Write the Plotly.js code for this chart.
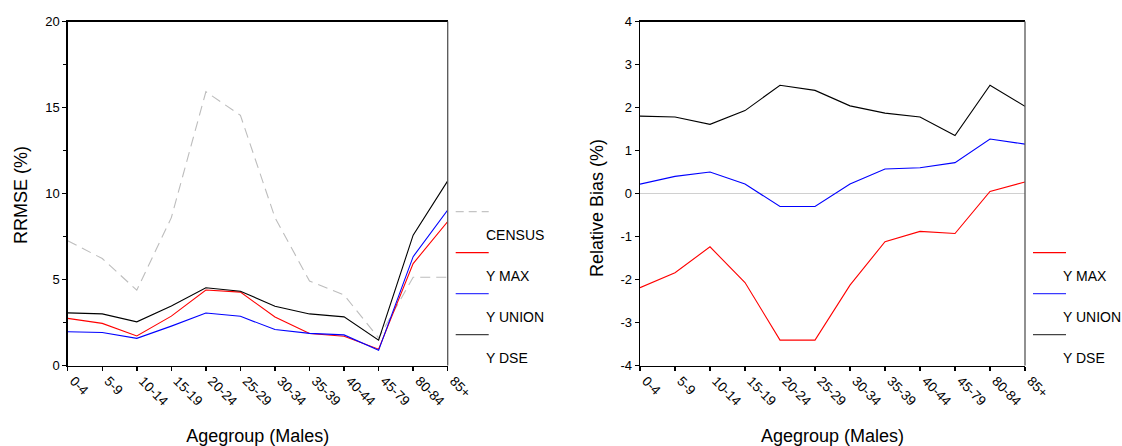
<!DOCTYPE html>
<html>
<head>
<meta charset="utf-8">
<script src="https://cdn.plot.ly/plotly-3.0.1.min.js"></script>
<style>html,body{margin:0;padding:0;background:#fff;}#chart{width:1122px;height:446px;}</style>
</head>
<body>
<div id="chart"></div>
<script>
// ---- data ----
const ageGroups = ['0-4','5-9','10-14','15-19','20-24','25-29','30-34','35-39','40-44','45-79','80-84','85+'];

const rrmseCensus = [7.26, 6.22, 4.38, 8.6, 15.92, 14.55, 8.6, 4.91, 4.1, 1.6, 5.13, 5.13];
const rrmseYMax   = [2.74, 2.45, 1.72, 2.87, 4.39, 4.27, 2.82, 1.86, 1.7, 0.95, 5.93, 8.37];
const rrmseYUnion = [1.96, 1.92, 1.58, 2.29, 3.05, 2.86, 2.09, 1.87, 1.78, 0.88, 6.33, 9.04];
const rrmseYDse   = [3.06, 3.0, 2.54, 3.46, 4.52, 4.32, 3.45, 3.0, 2.83, 1.47, 7.58, 10.74];

const biasYMax   = [-2.19, -1.84, -1.24, -2.07, -3.41, -3.41, -2.13, -1.12, -0.88, -0.93, 0.05, 0.27];
const biasYUnion = [0.22, 0.40, 0.50, 0.22, -0.30, -0.30, 0.22, 0.57, 0.60, 0.72, 1.27, 1.15];
const biasYDse   = [1.80, 1.78, 1.61, 1.93, 2.52, 2.40, 2.04, 1.87, 1.78, 1.35, 2.52, 2.03];

const seriesNames = ['CENSUS', 'Y MAX', 'Y UNION', 'Y DSE'];
const rrmseTickVals = [0, 5, 10, 15, 20];
const rrmseTickText = ['0', '5', '10', '15', '20'];
const biasTickVals = [-4, -3, -2, -1, 0, 1, 2, 3, 4];
const biasTickText = ['-4', '-3', '-2', '-1', '0', '1', '2', '3', '4'];

const xTitle = 'Agegroup (Males)';
const yTitleLeft = 'RRMSE (%)';
const yTitleRight = 'Relative Bias (%)';

// ---- styling ----
const W = 1122, H = 446;
const FONT = 'Arial, "Liberation Sans", sans-serif';
const colors = {'CENSUS': '#bdbdbd', 'Y MAX': '#ff0000', 'Y UNION': '#0000ff', 'Y DSE': '#000000'};
const legendColors = {'CENSUS': '#c4c4c4', 'Y MAX': '#ff0000', 'Y UNION': '#3b3bff', 'Y DSE': '#444444'};

const leftPx = [67.7, 447.7], rightPx = [640, 1025], yPx = [21.6, 365.5];
const xdom1 = [leftPx[0] / W, leftPx[1] / W];
const xdom2 = [rightPx[0] / W, rightPx[1] / W];
const ydom = [(H - yPx[1]) / H, (H - yPx[0]) / H];

function line(name, y, xa, ya) {
  return {
    type: 'scatter', mode: 'lines', name: name, x: ageGroups, y: y,
    xaxis: xa, yaxis: ya, showlegend: false,
    line: {color: colors[name], width: 1.1,
           dash: name === 'CENSUS' ? '10px,6px' : 'solid'}
  };
}

const traces = [
  line('CENSUS', rrmseCensus, 'x', 'y'),
  line('Y MAX', rrmseYMax, 'x', 'y'),
  line('Y UNION', rrmseYUnion, 'x', 'y'),
  line('Y DSE', rrmseYDse, 'x', 'y'),
  line('Y MAX', biasYMax, 'x2', 'y2'),
  line('Y UNION', biasYUnion, 'x2', 'y2'),
  line('Y DSE', biasYDse, 'x2', 'y2')
];

const tickFont = {family: FONT, size: 13, color: '#000'};
function xaxis(dom, anchor) {
  return {
    domain: dom, anchor: anchor, type: 'category', range: [0, ageGroups.length - 1],
    showgrid: false, zeroline: false, showline: true, linecolor: '#000', linewidth: 1.4,
    mirror: true, ticks: 'outside', ticklen: 4, tickwidth: 1.5, tickcolor: '#000',
    tickangle: 45, tickfont: {family: FONT, size: 13.5, color: '#000'}, automargin: false,
    ticklabelshift: 6, ticklabelstandoff: -3,
    title: {text: xTitle, font: {family: FONT, size: 18, color: '#000'}, standoff: 30}
  };
}

const layout = {
  width: W, height: H, margin: {l: 0, r: 0, t: 0, b: 0},
  paper_bgcolor: '#fff', plot_bgcolor: '#fff', showlegend: false,
  font: {family: FONT, color: '#000'},
  xaxis: xaxis(xdom1, 'y'),
  xaxis2: xaxis(xdom2, 'y2'),
  yaxis: {
    domain: ydom, anchor: 'x', range: [0, 20], showgrid: false, zeroline: false,
    showline: true, linecolor: '#000', linewidth: 1.4, ticks: 'outside', ticklen: 4,
    tickwidth: 1.3, tickcolor: '#000', tickvals: rrmseTickVals, ticktext: rrmseTickText,
    tickfont: tickFont, automargin: false,
    minor: {dtick: 2.5, tick0: 0, ticks: 'outside', ticklen: 3, tickwidth: 1, tickcolor: '#000', showgrid: false}
  },
  yaxis2: {
    domain: ydom, anchor: 'x2', range: [-4, 4], showgrid: false,
    zeroline: true, zerolinecolor: '#d0d0d0', zerolinewidth: 1.8,
    showline: true, linecolor: '#000', linewidth: 1.4, ticks: 'outside', ticklen: 4,
    tickwidth: 1.3, tickcolor: '#000', tickvals: biasTickVals, ticktext: biasTickText,
    tickfont: tickFont, automargin: false
  },
  shapes: [],
  annotations: [
    {xref: 'paper', yref: 'paper', x: 21 / W, y: 1 - 195 / H, text: yTitleLeft, textangle: -90,
     showarrow: false, xanchor: 'center', yanchor: 'middle', font: {family: FONT, size: 18, color: '#000'}},
    {xref: 'paper', yref: 'paper', x: 597 / W, y: 1 - 208 / H, text: yTitleRight, textangle: -90,
     showarrow: false, xanchor: 'center', yanchor: 'middle', font: {family: FONT, size: 18, color: '#000'}}
  ]
};

// right frame edges (gray) for both plots
[['x', 'y'], ['x2', 'y2']].forEach(function (p) {
  layout.shapes.push({type: 'line', xref: p[0] + ' domain', yref: p[1] + ' domain',
    x0: 1, x1: 1, y0: 0, y1: 1, line: {color: '#555', width: 1.3}});
});

// SPSS-style legends: line, then label beneath it
function addLegend(names, edgePx, startRow) {
  names.forEach(function (nm, i) {
    const row = startRow + i;
    const ly = 211.7 + 41 * row;
    const ty = ly + 23.5;
    layout.shapes.push({type: 'line', xref: 'paper', yref: 'paper',
      x0: (edgePx + 8) / W, x1: (edgePx + 41) / W, y0: 1 - ly / H, y1: 1 - ly / H,
      line: {color: legendColors[nm], width: 1.3, dash: nm === 'CENSUS' ? '8px,5px' : 'solid'}});
    layout.annotations.push({xref: 'paper', yref: 'paper', x: (edgePx + 36) / W, y: 1 - ty / H,
      text: nm, showarrow: false, xanchor: 'left', yanchor: 'middle',
      font: {family: FONT, size: 14, color: '#000'}});
  });
}
addLegend(seriesNames, leftPx[1], 0);
addLegend(seriesNames.slice(1), rightPx[1], 1);

Plotly.newPlot('chart', traces, layout, {displayModeBar: false, staticPlot: true});
</script>
</body>
</html>
